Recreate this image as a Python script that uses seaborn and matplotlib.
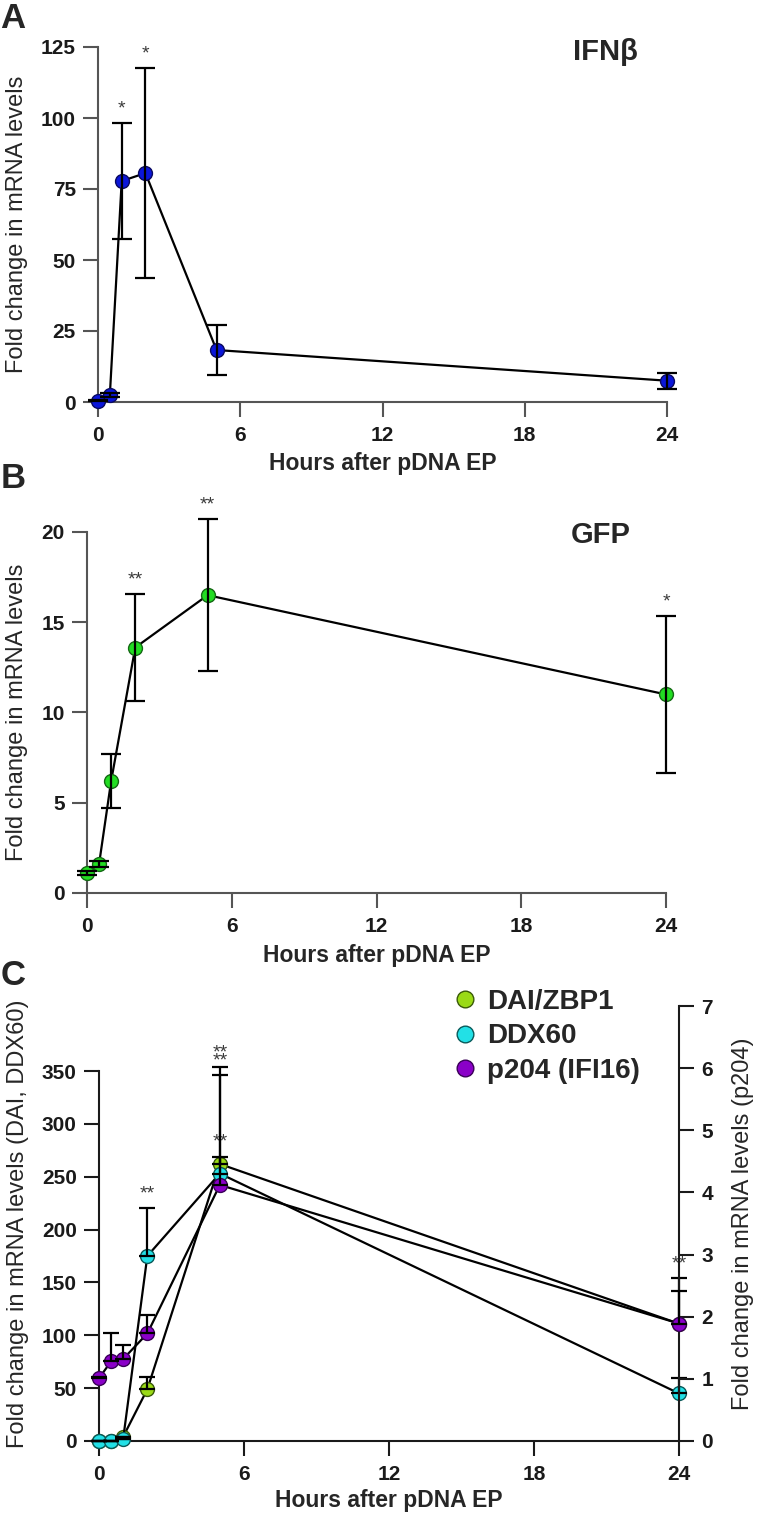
import numpy as np
import pandas as pd
import seaborn as sns
import matplotlib.pyplot as plt
from matplotlib.lines import Line2D

sns.set_style("ticks")
plt.rcParams['font.family'] = ['Liberation Sans', 'DejaVu Sans']

# data
hours = [0, 0.5, 1, 2, 5, 24]
xticks = [0, 6, 12, 18, 24]

ifn = [0.5, 2.5, 77.8, 80.6, 18.3, 7.5]
ifn_err = [0.3, 0.8, 20.3, 37.0, 8.8, 2.8]
ifn_stars = ['', '', '*', '*', '', '']

gfp = [1.1, 1.6, 6.2, 13.6, 16.5, 11.0]
gfp_err = [0.1, 0.15, 1.5, 2.95, 4.2, 4.35]
gfp_stars = ['', '', '', '**', '**', '*']

dai = [0, 0, 4, 49, 262, 111]
dai_err = [0, 0, 0, 12, 7, 43]
dai_stars = ['', '', '', '', '**', '**']

ddx = [0, 0, 2, 175, 253, 45]
ddx_err = [0, 0, 0, 45, 93, 15]
ddx_stars = ['', '', '', '**', '**', '']

p204 = [1.01, 1.28, 1.32, 1.73, 4.12, 1.89]
p204_err = [0.02, 0.45, 0.23, 0.30, 1.90, 0.53]
p204_stars = ['', '', '', '', '**', '']

W, H = 757, 1521
fig = plt.figure(figsize=(W / 100, H / 100), dpi=100)


def add_ax(l, r, t, b):
    return fig.add_axes([l / W, 1 - b / H, (r - l) / W, (b - t) / H])


def style(ax, sides, col):
    for s in ['left', 'right', 'top', 'bottom']:
        ax.spines[s].set_visible(s in sides)
        ax.spines[s].set_linewidth(1.5)
        ax.spines[s].set_color(col)
    ax.tick_params(length=11, width=1.5, color=col, labelsize=15, labelcolor='#1a1a1a')
    ax.tick_params(axis='x', pad=6)
    ax.tick_params(axis='y', pad=5)
    for lbl in ax.get_xticklabels() + ax.get_yticklabels():
        lbl.set_fontweight('bold')


def draw(ax, y, err, stars, face, edge, upper_only=False, capsize=7):
    df = pd.DataFrame({'h': hours, 'v': y})
    sns.lineplot(data=df, x='h', y='v', ax=ax, color='black', lw=1.6,
                 marker='o', ms=10, markerfacecolor=face, markeredgecolor=edge,
                 markeredgewidth=1, errorbar=None, clip_on=False, zorder=3)
    lo = np.zeros(len(err)) if upper_only else err
    eb = ax.errorbar(hours, y, yerr=[lo, err], fmt='none', ecolor='black',
                     elinewidth=1.6, capsize=capsize, capthick=1.6, zorder=4)
    for art in eb.lines[1] + eb.lines[2]:
        art.set_clip_on(False)
    for h, v, e, s in zip(hours, y, err, stars):
        if s:
            ax.annotate(s, xy=(h, v + e), xytext=(0, 7), textcoords='offset points',
                        ha='center', va='baseline', fontsize=14, color='#3a3a3a',
                        annotation_clip=False)


def xlab(ax, ypos):
    ax.set_xlabel('Hours after pDNA EP', fontsize=16.5, fontweight='bold', va='center')
    ax.xaxis.set_label_coords(0.5, ypos)


# Panel A
axA = add_ax(98, 667, 47, 402)
draw(axA, ifn, ifn_err, ifn_stars, '#0b16d9', '#0a0a60')
axA.set_xlim(0, 24)
axA.set_ylim(0, 125)
axA.set_xticks(xticks)
axA.set_yticks([0, 25, 50, 75, 100, 125])
style(axA, ['left', 'bottom'], '#555555')
axA.set_ylabel('Fold change in mRNA levels', fontsize=17, va='center')
axA.yaxis.set_label_coords((17 - 98) / 569, 0.5)
xlab(axA, -0.172)
fig.text(605 / W, 1 - 52 / H, 'IFNβ', fontsize=21, fontweight='bold', ha='center', va='center')

# Panel B
axB = add_ax(87, 666, 532, 893)
draw(axB, gfp, gfp_err, gfp_stars, '#22dd22', '#146914')
axB.set_xlim(0, 24)
axB.set_ylim(0, 20)
axB.set_xticks(xticks)
axB.set_yticks([0, 5, 10, 15, 20])
style(axB, ['left', 'bottom'], '#555555')
axB.set_ylabel('Fold change in mRNA levels', fontsize=17, va='center')
axB.yaxis.set_label_coords((17 - 87) / 579, 0.5)
xlab(axB, -0.172)
fig.text(601 / W, 1 - 535 / H, 'GFP', fontsize=21, fontweight='bold', ha='center', va='center')

# Panel C
axC = add_ax(99, 679, 1006, 1441)
axC2 = axC.twinx()
draw(axC, dai, dai_err, dai_stars, '#9ada16', '#3a5a08', upper_only=True, capsize=6)
draw(axC, ddx, ddx_err, ddx_stars, '#22e0e6', '#0a5a5a', upper_only=True, capsize=6)
draw(axC2, p204, p204_err, p204_stars, '#8a00c8', '#3a0058', upper_only=True, capsize=6)
axC.set_xlim(0, 24)
axC.set_ylim(0, 411.5)
axC2.set_ylim(0, 7)
axC.set_xticks(xticks)
axC.set_yticks([0, 50, 100, 150, 200, 250, 300, 350])
axC2.set_yticks(range(8))
style(axC, ['left', 'bottom'], '#1a1a1a')
style(axC2, ['right'], '#1a1a1a')
axC.spines['left'].set_bounds(0, 350)
axC.set_ylabel('Fold change in mRNA levels (DAI, DDX60)', fontsize=17, va='center')
axC.yaxis.set_label_coords((18 - 99) / 580, 0.5)
axC2.set_ylabel('Fold change in mRNA levels (p204)', fontsize=17, va='center')
axC2.yaxis.set_label_coords((743 - 99) / 580, 0.5)
xlab(axC, -0.136)

handles = [Line2D([], [], ls='none', marker='o', ms=12, markerfacecolor=c, markeredgecolor=e, markeredgewidth=1)
           for c, e in [('#9ada16', '#3a5a08'), ('#22e0e6', '#0a5a5a'), ('#8a00c8', '#3a0058')]]
fig.legend(handles, ['DAI/ZBP1', 'DDX60', 'p204 (IFI16)'], loc='upper left',
           bbox_to_anchor=(440 / W, 1 - 975 / H), frameon=False, borderpad=0,
           handlelength=0.8, handletextpad=0.4, labelspacing=0.3,
           prop={'size': 20, 'weight': 'bold'})

for letter, x, y in [('A', 13, 18), ('B', 13, 478), ('C', 13, 975)]:
    fig.text(x / W, 1 - y / H, letter, fontsize=25, fontweight='bold', ha='center', va='center')

fig.savefig('out.png', dpi=100)
